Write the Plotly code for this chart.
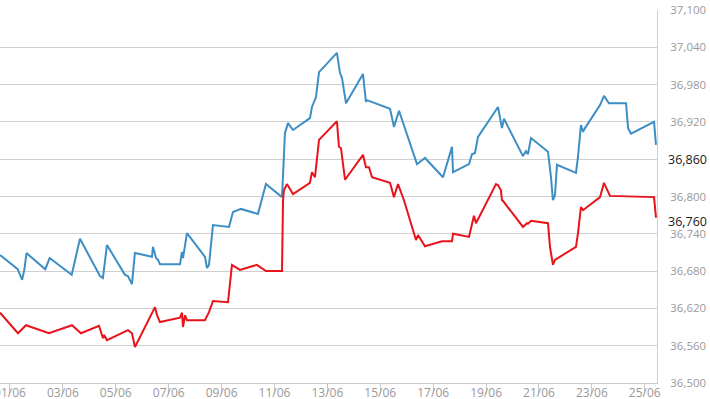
import plotly.graph_objects as go

# Blue series (timestamps, values)
blue_t = ["2019-05-31 15:00", "2019-06-01 07:00", "2019-06-01 11:00", "2019-06-01 13:00", "2019-06-01 15:00",
          "2019-06-02 08:00", "2019-06-02 12:00", "2019-06-03 08:00", "2019-06-03 15:30", "2019-06-04 09:40",
          "2019-06-04 12:20", "2019-06-04 16:00", "2019-06-05 08:20", "2019-06-05 11:00", "2019-06-05 14:40",
          "2019-06-05 17:20", "2019-06-06 08:50", "2019-06-06 09:45", "2019-06-06 12:30", "2019-06-06 14:20",
          "2019-06-06 16:05", "2019-06-07 10:15", "2019-06-07 12:05", "2019-06-07 13:00", "2019-06-07 16:35",
          "2019-06-08 08:55", "2019-06-08 10:45", "2019-06-08 12:35", "2019-06-08 16:10", "2019-06-09 06:45",
          "2019-06-09 10:20", "2019-06-09 17:35", "2019-06-10 09:00", "2019-06-10 16:15", "2019-06-11 06:50",
          "2019-06-11 09:30", "2019-06-11 12:15", "2019-06-11 16:50", "2019-06-12 08:10", "2019-06-12 10:00",
          "2019-06-12 13:40", "2019-06-12 16:25", "2019-06-13 08:40", "2019-06-13 11:25", "2019-06-13 13:15",
          "2019-06-13 16:55", "2019-06-14 08:20", "2019-06-14 11:00", "2019-06-14 11:55", "2019-06-15 08:50",
          "2019-06-15 12:25", "2019-06-15 17:00", "2019-06-16 09:20", "2019-06-16 16:35", "2019-06-17 08:55",
          "2019-06-17 17:05", "2019-06-17 18:00", "2019-06-18 08:30", "2019-06-18 11:10", "2019-06-18 13:55",
          "2019-06-18 16:40", "2019-06-19 10:50", "2019-06-19 14:25", "2019-06-19 16:15", "2019-06-20 09:30",
          "2019-06-20 12:10", "2019-06-20 14:00", "2019-06-20 16:45", "2019-06-21 08:10", "2019-06-21 10:55",
          "2019-06-21 12:40", "2019-06-21 14:30", "2019-06-21 16:20", "2019-06-22 09:35", "2019-06-22 11:25",
          "2019-06-22 14:05", "2019-06-22 16:00", "2019-06-22 17:45", "2019-06-23 07:25", "2019-06-23 11:00",
          "2019-06-23 15:30", "2019-06-24 07:00", "2019-06-24 08:50", "2019-06-24 11:30", "2019-06-25 08:25",
          "2019-06-25 10:10"]
blue_v = [36706, 36683, 36666, 36682, 36709,
          36683, 36701, 36674, 36732, 36672,
          36669, 36722, 36674, 36672, 36659,
          36709, 36703, 36719, 36701, 36698,
          36691, 36691, 36711, 36701, 36741,
          36703, 36685, 36690, 36754, 36751,
          36775, 36780, 36772, 36820, 36799,
          36902, 36918, 36907, 36926, 36944,
          36960, 37000, 37031, 36999, 36991,
          36950, 36997, 36952, 36955, 36941,
          36912, 36938, 36852, 36862, 36831,
          36880, 36839, 36852, 36868, 36870,
          36896, 36944, 36910, 36925, 36865,
          36873, 36868, 36894, 36872, 36831,
          36794, 36802, 36851, 36838, 36864,
          36915, 36904, 36910, 36947, 36962,
          36950, 36950, 36910, 36901, 36920,
          36883]

# Red series
red_t = ["2019-05-31 15:00", "2019-06-01 07:15", "2019-06-01 14:30", "2019-06-02 11:25", "2019-06-03 08:15",
         "2019-06-03 16:25", "2019-06-04 08:45", "2019-06-04 12:25", "2019-06-04 13:20", "2019-06-04 16:00",
         "2019-06-05 11:05", "2019-06-05 14:40", "2019-06-05 17:25", "2019-06-06 11:35", "2019-06-06 13:25",
         "2019-06-06 16:05", "2019-06-07 10:15", "2019-06-07 12:05", "2019-06-07 13:00", "2019-06-07 14:50",
         "2019-06-07 16:35", "2019-06-08 08:55", "2019-06-08 12:35", "2019-06-08 16:10", "2019-06-09 05:50",
         "2019-06-09 09:25", "2019-06-09 16:40", "2019-06-10 08:05", "2019-06-10 16:15", "2019-06-11 06:50",
         "2019-06-11 07:45", "2019-06-11 08:35", "2019-06-11 11:20", "2019-06-11 16:50", "2019-06-12 08:10",
         "2019-06-12 10:00", "2019-06-12 12:45", "2019-06-12 16:25", "2019-06-13 08:40", "2019-06-13 10:30",
         "2019-06-13 12:20", "2019-06-13 16:00", "2019-06-14 08:20", "2019-06-14 11:00", "2019-06-14 13:45",
         "2019-06-14 16:30", "2019-06-15 08:50", "2019-06-15 12:25", "2019-06-15 16:05", "2019-06-15 21:30",
         "2019-06-16 05:40", "2019-06-16 08:25", "2019-06-16 10:15", "2019-06-16 16:35", "2019-06-17 08:00",
         "2019-06-17 17:05", "2019-06-17 18:00", "2019-06-18 08:30", "2019-06-18 13:00", "2019-06-18 14:50",
         "2019-06-19 09:00", "2019-06-19 10:50", "2019-06-19 13:30", "2019-06-19 14:25", "2019-06-19 15:20",
         "2019-06-20 09:30", "2019-06-20 13:05", "2019-06-20 14:00", "2019-06-20 16:45", "2019-06-21 08:10",
         "2019-06-21 10:00", "2019-06-21 12:40", "2019-06-21 14:30", "2019-06-22 09:35", "2019-06-22 11:25",
         "2019-06-22 14:05", "2019-06-22 16:00", "2019-06-23 07:25", "2019-06-23 11:00", "2019-06-23 16:25",
         "2019-06-25 08:25", "2019-06-25 10:10"]
red_v = [36613, 36580, 36593, 36580, 36593,
         36580, 36592, 36572, 36577, 36569,
         36585, 36580, 36558, 36622, 36609,
         36598, 36605, 36613, 36590, 36609,
         36601, 36601, 36614, 36632, 36630,
         36690, 36682, 36690, 36680, 36680,
         36794, 36810, 36820, 36804, 36822,
         36839, 36831, 36891, 36921, 36880,
         36878, 36827, 36867, 36847, 36847,
         36831, 36822, 36799, 36820, 36794,
         36746, 36730, 36738, 36720, 36728,
         36728, 36740, 36735, 36769, 36757,
         36820, 36818, 36810, 36794, 36793,
         36751, 36757, 36756, 36761, 36757,
         36719, 36690, 36698, 36719, 36741,
         36783, 36778, 36799, 36822, 36801,
         36799, 36766]

x_ticks = ["2019-06-01", "2019-06-03", "2019-06-05", "2019-06-07", "2019-06-09", "2019-06-11", "2019-06-13",
           "2019-06-15", "2019-06-17", "2019-06-19", "2019-06-21", "2019-06-23", "2019-06-25"]
x_labels = ["01/06", "03/06", "05/06", "07/06", "09/06", "11/06", "13/06",
            "15/06", "17/06", "19/06", "21/06", "23/06", "25/06"]
y_ticks = [36500, 36560, 36620, 36680, 36740, 36800, 36860, 36920, 36980, 37040, 37100]
y_labels = ["36,500", "36,560", "36,620", "36,680", "36,740", "36,800", "", "36,920", "36,980", "37,040", "37,100"]
current_vals = [36860, 36760]
current_labels = ["36,860", "36,760"]

fig = go.Figure()
fig.add_trace(go.Scatter(x=blue_t, y=blue_v, mode="lines",
                         line=dict(color="#3d8ec4", width=2), showlegend=False))
fig.add_trace(go.Scatter(x=red_t, y=red_v, mode="lines",
                         line=dict(color="#e8141c", width=2), showlegend=False))

for v, lab in zip(current_vals, current_labels):
    fig.add_annotation(xref="paper", x=1, y=v, yref="y", text=lab, showarrow=False,
                       xanchor="left", xshift=9, font=dict(family="Open Sans", size=12.5, color="#1a1a1a"))

fig.update_layout(
    template="none",
    width=710, height=399,
    margin=dict(l=0, r=53, t=10, b=16, pad=0),
    paper_bgcolor="white", plot_bgcolor="white",
    font=dict(family="Open Sans", color="#999999", size=11.5),
    xaxis=dict(
        type="date", automargin=False,
        range=["2019-05-31 14:56", "2019-06-25 11:06"],
        tickvals=x_ticks, ticktext=x_labels,
        ticks="outside", ticklen=10, tickcolor="#c8c8c8", tickwidth=1,
        ticklabelstandoff=-11, ticklabeloverflow="allow",
        showgrid=False, showline=True, linecolor="#c8c8c8", linewidth=1,
        zeroline=False,
        tickfont=dict(family="Open Sans", size=12, color="#999999"),
    ),
    yaxis=dict(
        side="right", automargin=False,
        range=[36500, 37100],
        tickvals=y_ticks, ticktext=y_labels,
        ticks="outside", ticklen=10, tickcolor="rgba(0,0,0,0)",
        ticklabeloverflow="allow",
        showgrid=True, gridcolor="#cfcfcf", gridwidth=1,
        showline=True, linecolor="#d0d0d0", linewidth=1,
        zeroline=False,
        tickfont=dict(family="Open Sans", size=11.5, color="#999999"),
    ),
)

fig.write_html("out.html", config={"displayModeBar": False},
               post_script="document.body.style.margin='0';document.body.style.overflow='hidden';")
